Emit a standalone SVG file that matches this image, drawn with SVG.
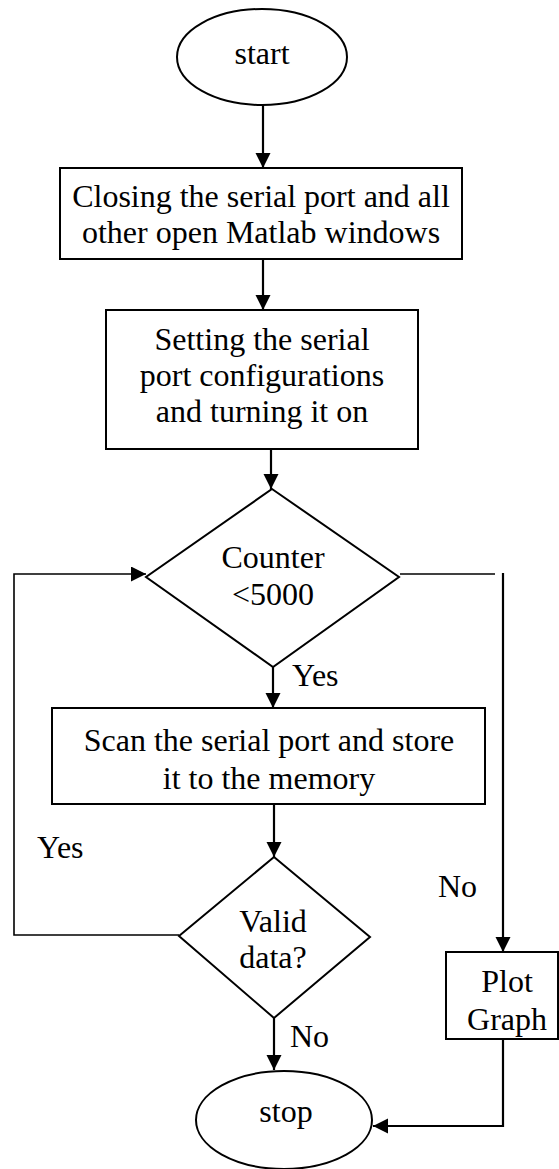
<svg xmlns="http://www.w3.org/2000/svg" width="559" height="1169" viewBox="0 0 559 1169">
<style>
.shape{fill:#fff;stroke:#000;stroke-width:2}
.t{font-family:"Liberation Serif","Times New Roman",serif;font-size:32px;fill:#000;text-anchor:middle}
.l{font-family:"Liberation Serif","Times New Roman",serif;font-size:32px;fill:#000}
.c{fill:none;stroke:#000;stroke-width:2.2}
.thin{fill:none;stroke:#000;stroke-width:1.6}
</style>
<defs>
<marker id="ah" markerUnits="userSpaceOnUse" markerWidth="16" markerHeight="16" refX="15" refY="7.5" orient="auto">
<path d="M0,0 L15,7.5 L0,15 z" fill="#000"/>
</marker>
<clipPath id="plotclip"><rect x="446" y="952" width="113" height="87"/></clipPath>
</defs>
<rect width="559" height="1169" fill="#fff"/>
<g id="connectors">
<path class="c" d="M263,105 V168" marker-end="url(#ah)"/>
<path class="c" d="M263,259 V310" marker-end="url(#ah)"/>
<path class="c" d="M271,449 V489" marker-end="url(#ah)"/>
<path class="c" d="M273,667 V708" marker-end="url(#ah)"/>
<path class="c" d="M274,804 V857" marker-end="url(#ah)"/>
<path class="c" d="M274,1018 V1070" marker-end="url(#ah)"/>
<path class="thin" d="M179,935 H14 V574 H146" marker-end="url(#ah)"/>
<path class="thin" d="M400,574 H495"/>
<path class="c" d="M503,573 V952" marker-end="url(#ah)"/>
<path class="c" d="M503,1039 V1126 H373" marker-end="url(#ah)"/>
</g>
<g id="start">
<ellipse class="shape" cx="262" cy="57" rx="85" ry="48"/>
<text class="t" x="262" y="64">start</text>
</g>
<g id="close">
<rect class="shape" x="60" y="168" width="402" height="91"/>
<text class="t" x="261" y="207">Closing the serial port and all</text>
<text class="t" x="261" y="243">other open Matlab windows</text>
</g>
<g id="setup">
<rect class="shape" x="106" y="310" width="312" height="139"/>
<text class="t" x="262" y="350">Setting the serial</text>
<text class="t" x="262" y="386">port configurations</text>
<text class="t" x="262" y="422">and turning it on</text>
</g>
<g id="counter">
<polygon class="shape" points="272,489 399,577 273,667 146,577" stroke-width="1.6"/>
<text class="t" x="273" y="568">Counter</text>
<text class="t" x="273" y="605">&lt;5000</text>
</g>
<text class="l" x="292" y="686">Yes</text>
<g id="scan">
<rect class="shape" x="52" y="708" width="433" height="96"/>
<text class="t" x="269" y="751">Scan the serial port and store</text>
<text class="t" x="269" y="789">it to the memory</text>
</g>
<text class="l" x="37" y="858">Yes</text>
<text class="l" x="438" y="897">No</text>
<g id="valid">
<polygon class="shape" points="274,857 370,937 274,1018 179,936" stroke-width="1.6"/>
<text class="t" x="273" y="932">Valid</text>
<text class="t" x="273" y="968">data?</text>
</g>
<text class="l" x="290" y="1047">No</text>
<g id="plot">
<rect class="shape" x="446" y="952" width="112" height="87"/>
<g clip-path="url(#plotclip)">
<text class="t" x="507" y="992">Plot</text>
<text class="t" x="507" y="1030">Graph</text>
</g>
</g>
<g id="stop">
<ellipse class="shape" cx="284" cy="1120" rx="88" ry="49"/>
<text class="t" x="286" y="1122">stop</text>
</g>
</svg>
